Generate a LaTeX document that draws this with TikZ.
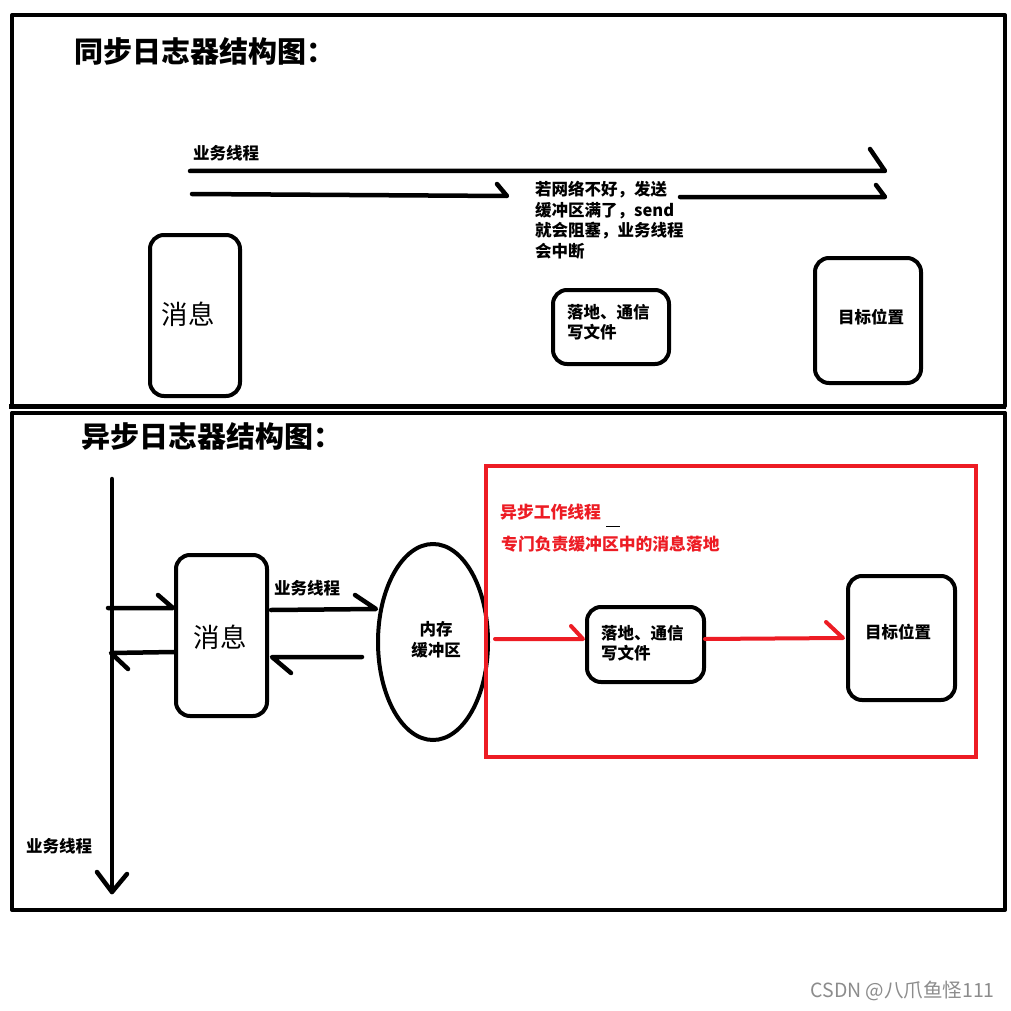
\documentclass[tikz,border=0pt]{standalone}
\usepackage{fontspec}
\usetikzlibrary{shapes.geometric}
\newfontfamily\cjk{Noto Sans CJK SC}
\definecolor{myred}{RGB}{237,28,36}
\begin{document}
\begin{tikzpicture}[x=1pt,y=-1pt,line cap=round,line join=round,
  frame/.style={line width=4pt},
  box/.style={draw,line width=4pt,rounded corners=14pt,inner sep=0pt},
  arr/.style={line width=4.5pt},
  redarr/.style={line width=4pt,draw=myred},
  txt/.style={font=\cjk\bfseries\fontsize{16.5}{20}\selectfont,inner sep=0pt},
  ttl/.style={font=\cjk\bfseries\fontsize{29}{32}\selectfont,anchor=west,inner sep=0pt},
  big/.style={font=\cjk\fontsize{26.5}{30}\selectfont},
  redtxt/.style={font=\cjk\bfseries\fontsize{16.8}{20}\selectfont,text=myred,anchor=west,inner sep=0pt}]
\useasboundingbox (0,0) rectangle (1010,1011);
\fill[white] (0,0) rectangle (1010,1011);
% frames
\draw[frame] (12,406) -- (12,15) -- (1005,15) -- (1005,406);
\draw[line width=5pt,line cap=butt] (9,406) -- (1006,406);
\draw[line width=3.5pt] (12,413) -- (1005,413);
\draw[frame] (12,413) -- (12,910) -- (1005,910) -- (1005,413);
% titles
\node[ttl] (t1) at (74,51) {同步日志器结构图：};
\node[ttl] (t2) at (81,436) {异步日志器结构图：};
% ---------- synchronous ----------
\node[txt,anchor=west] (bt1) at (193,153) {业务线程};
\coordinate (s1a) at (190,171);
\coordinate (s1b) at (885,171);
\coordinate (s1c) at (870,149);
\draw[arr] (s1a) -- (s1b) -- (s1c);
\coordinate (s2a) at (192,194);
\coordinate (s2b) at (507,196);
\coordinate (s2c) at (497,184);
\draw[arr] (s2a) -- (s2b) -- (s2c);
\coordinate (s3a) at (680,197);
\coordinate (s3b) at (885,197);
\coordinate (s3c) at (876,185);
\draw[arr] (s3a) -- (s3b) -- (s3c);
\node[txt,anchor=west] (note1) at (535,190) {若网络不好，发送};
\node[txt,anchor=west] (note2) at (535,211) {缓冲区满了，send};
\node[txt,anchor=west] (note3) at (535,231) {就会阻塞，业务线程};
\node[txt,anchor=west] (note4) at (535,251) {会中断};
\node[box,minimum width=90pt,minimum height=161pt] (msg1) at (195,315.5) {};
\node[big] (msg1t) at (188,314) {消息};
\node[box,minimum width=116pt,minimum height=74pt] (land1) at (611,327) {};
\node[txt,anchor=west] (land1a) at (567,312) {落地、通信};
\node[txt,anchor=west] (land1b) at (567,332) {写文件};
\node[box,minimum width=106pt,minimum height=125pt] (dst1) at (868,320.5) {};
\node[txt] (dst1t) at (871,317) {目标位置};
% ---------- asynchronous ----------
\coordinate (vtop) at (112,479);
\coordinate (vbot) at (112,892);
\coordinate (vl) at (97,872);
\coordinate (vr) at (127,874);
\draw[arr] (vtop) -- (vbot);
\draw[arr] (vl) -- (vbot) -- (vr);
\node[txt,anchor=west] (bt3) at (26,846) {业务线程};
\node[box,minimum width=91pt,minimum height=161pt] (msg2) at (221.5,635.5) {};
\node[big] (msg2t) at (220,637) {消息};
\coordinate (i1a) at (108,608);
\coordinate (i1b) at (173,608);
\coordinate (i1c) at (158,595);
\draw[arr] (i1a) -- (i1b) -- (i1c);
\coordinate (o1a) at (174,652);
\coordinate (o1b) at (111,653);
\coordinate (o1c) at (128,669);
\draw[arr] (o1a) -- (o1b) -- (o1c);
\node[draw,ellipse,line width=4pt,minimum width=110pt,minimum height=196pt,inner sep=0pt] (mem) at (433,642) {};
\node[txt,align=center,font=\cjk\bfseries\fontsize{16.5}{21}\selectfont] (memt) at (436,640) {内存\\缓冲区};
\node[txt,anchor=west] (bt2) at (274,588) {业务线程};
\coordinate (m1a) at (271,610);
\coordinate (m1b) at (376,609);
\coordinate (m1c) at (355,595);
\draw[arr] (m1a) -- (m1b) -- (m1c);
\coordinate (m2a) at (362,657);
\coordinate (m2b) at (272,657);
\coordinate (m2c) at (291,673);
\draw[arr] (m2a) -- (m2b) -- (m2c);
% red worker region
\draw[myred,line width=3.5pt,line cap=butt,line join=miter] (486,466) rectangle (976,757);
\node[redtxt] (w1) at (500,512) {异步工作线程};
\draw[line width=1pt,line cap=butt] (606,526) -- (620,526);
\node[redtxt] (w2) at (501,544) {专门负责缓冲区中的消息落地};
\node[box,minimum width=117pt,minimum height=75pt] (land2) at (645.5,644.5) {};
\node[txt,anchor=west] (land2a) at (601,633) {落地、通信};
\node[txt,anchor=west] (land2b) at (601,653) {写文件};
\node[box,minimum width=107pt,minimum height=124pt] (dst2) at (901.5,638) {};
\node[txt] (dst2t) at (898,632) {目标位置};
\coordinate (r1a) at (495,639);
\coordinate (r1b) at (583,639);
\coordinate (r1c) at (571,626);
\draw[redarr] (r1a) -- (r1b) -- (r1c);
\coordinate (r2a) at (705,639);
\coordinate (r2b) at (843,638);
\coordinate (r2c) at (826,622);
\draw[redarr] (r2a) -- (r2b) -- (r2c);
% watermark
\node[font=\cjk\fontsize{19.5}{22}\selectfont,text=black!45,anchor=east,inner sep=0pt] (wm) at (995,991) {CSDN @八爪鱼怪111};
\end{tikzpicture}
\end{document}
